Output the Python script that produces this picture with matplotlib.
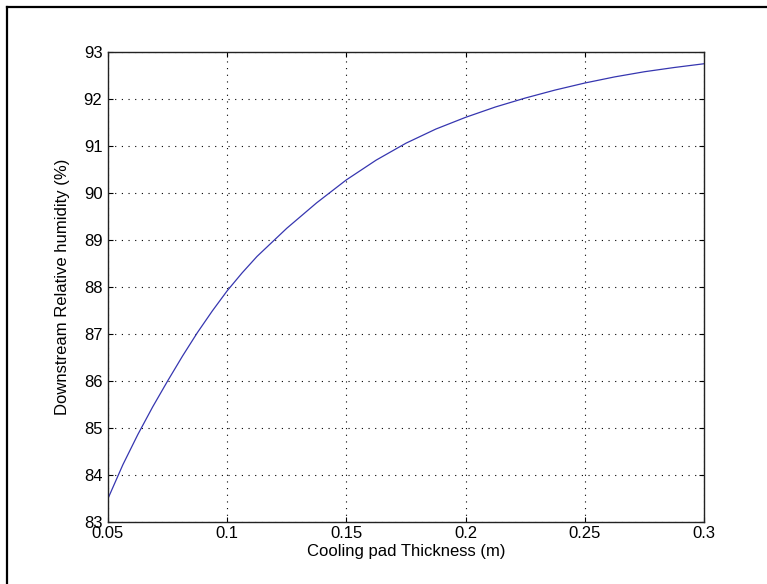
"""
Relative humidity downstream of the cooling pad vs. pad thickness.
"""

import matplotlib
matplotlib.use('Agg')
import matplotlib.pyplot as plt
from matplotlib.lines import Line2D

# pad thickness (m)
thickness = [0.05, 0.05625, 0.0625, 0.06875, 0.075, 0.08125, 0.0875, 0.09375, 0.1, 0.10625,
             0.1125, 0.125, 0.1375, 0.15, 0.1625, 0.175, 0.1875, 0.2, 0.2125, 0.225,
             0.2375, 0.25, 0.2625, 0.275, 0.2875, 0.3]
# downstream relative humidity (%)
rel_humidity = [83.50, 84.22, 84.86, 85.45, 86.00, 86.53, 87.03, 87.49, 87.92, 88.30,
                88.65, 89.25, 89.79, 90.28, 90.70, 91.06, 91.36, 91.61, 91.83, 92.02,
                92.19, 92.34, 92.47, 92.58, 92.67, 92.75]

x_ticks = [0.05, 0.1, 0.15, 0.2, 0.25, 0.3]
x_ticklabels = ['0.05', '0.1', '0.15', '0.2', '0.25', '0.3']
y_ticks = [83, 84, 85, 86, 87, 88, 89, 90, 91, 92, 93]


def plot_humidity(save_path='out.png'):
    plt.rcParams['font.family'] = ['Liberation Sans', 'DejaVu Sans']
    fig = plt.figure(figsize=(7.67, 5.84), dpi=100)
    ax = fig.add_axes([108 / 767, 62 / 584, 596 / 767, 470 / 584])

    ax.plot(thickness, rel_humidity, color='#3636b0', linewidth=0.9)

    ax.set_xlim(0.05, 0.3)
    ax.set_ylim(83, 93)
    ax.set_xticks(x_ticks)
    ax.set_xticklabels(x_ticklabels)
    ax.set_yticks(y_ticks)
    ax.tick_params(direction='in', length=3.5, width=0.8, labelsize=12,
                   top=True, right=True, colors='black')
    ax.tick_params(axis='y', pad=4)
    ax.tick_params(axis='x', pad=3)
    ax.grid(True, color='black', linestyle=(0, (1, 5)), linewidth=0.8)
    for sp in ax.spines.values():
        sp.set_linewidth(1.0)
        sp.set_color('#222222')

    ax.set_xlabel('Cooling pad Thickness (m)', fontsize=12, labelpad=2)
    ax.set_ylabel('Downstream Relative humidity (%)', fontsize=12, labelpad=10)

    # outer frame (only left and top edges are in the picture)
    fig.add_artist(Line2D([7 / 767, 7 / 767], [0, 1 - 7 / 584], transform=fig.transFigure,
                          color='black', linewidth=1.6))
    fig.add_artist(Line2D([7 / 767, 1], [1 - 7 / 584, 1 - 7 / 584], transform=fig.transFigure,
                          color='black', linewidth=1.6))

    fig.savefig(save_path, dpi=100)


plot_humidity()
